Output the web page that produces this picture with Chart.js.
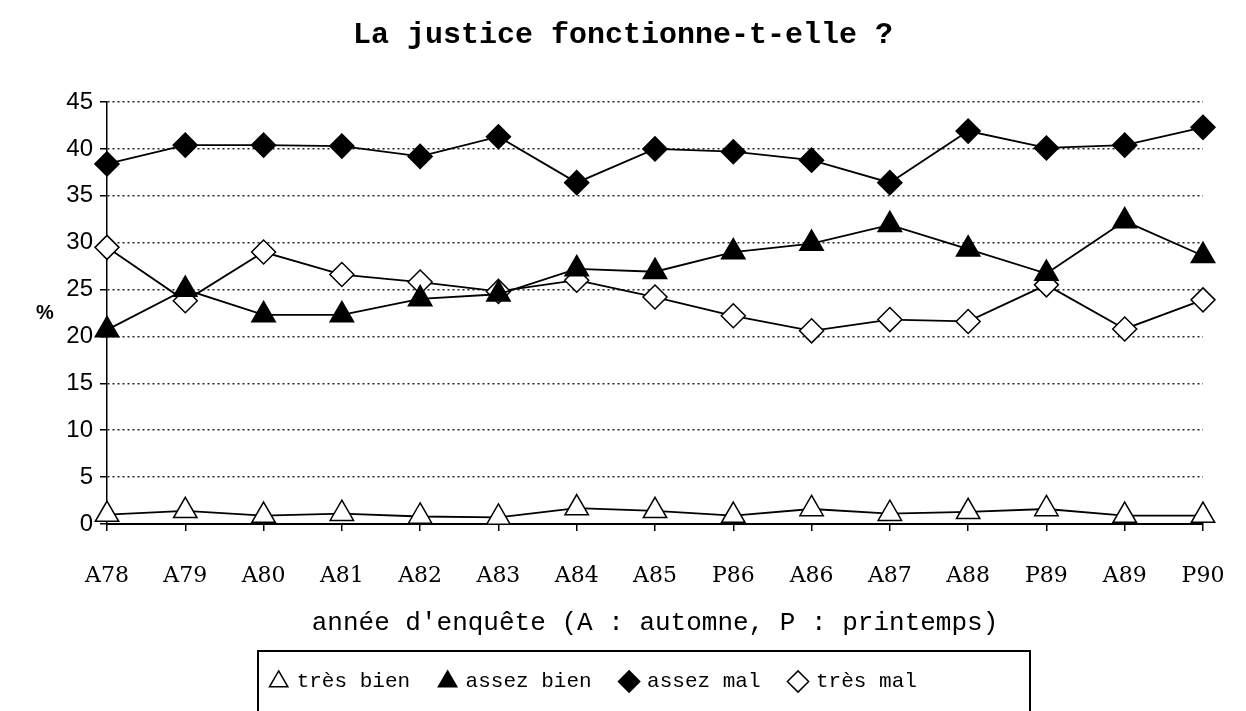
<!DOCTYPE html>
<html>
<head>
  <meta charset="utf-8">
  <title>La justice fonctionne-t-elle ?</title>
  <script src="https://cdn.jsdelivr.net/npm/chart.js@4"></script>
  <style>
    html, body { margin: 0; padding: 0; background: #fff; }
    #wrap { width: 1246px; height: 711px; position: relative; }
  </style>
</head>
<body>
  <div id="wrap"><canvas id="chart"></canvas></div>
  <script>
    const years = ['A78', 'A79', 'A80', 'A81', 'A82', 'A83', 'A84', 'A85', 'P86', 'A86', 'A87', 'A88', 'P89', 'A89', 'P90'];
    const tresBien = [1.0, 1.4, 0.9, 1.1, 0.8, 0.7, 1.7, 1.4, 0.9, 1.6, 1.1, 1.3, 1.6, 0.9, 0.9];
    const assezBien = [20.7, 25.0, 22.3, 22.3, 24.0, 24.5, 27.2, 26.9, 29.0, 29.9, 31.9, 29.3, 26.7, 32.3, 28.6];
    const assezMal = [38.4, 40.4, 40.4, 40.3, 39.2, 41.3, 36.4, 40.0, 39.7, 38.8, 36.4, 41.9, 40.1, 40.4, 42.3];
    const tresMal = [29.5, 23.8, 29.0, 26.6, 25.8, 24.8, 26.0, 24.2, 22.2, 20.6, 21.8, 21.6, 25.5, 20.8, 23.9];

    const mono = "'Liberation Mono', 'Courier New', monospace";

    // "%" label beside the y axis, and the frame around the legend
    const extras = {
      id: 'extras',
      afterLayout(chart) {
        // move the legend items a bit to the left, as in the original
        chart.legend.right -= 58;
      },
      afterDraw(chart) {
        const ctx = chart.ctx;
        const area = chart.chartArea;
        ctx.save();
        ctx.fillStyle = '#000';
        ctx.font = "bold 20px 'Liberation Sans', Arial, sans-serif";
        ctx.textAlign = 'center';
        ctx.textBaseline = 'middle';
        ctx.fillText('%', 45, (area.top + area.bottom) / 2);
        ctx.strokeStyle = '#000';
        ctx.lineWidth = 2;
        ctx.strokeRect(258, 651, 772, 90);
        ctx.restore();
      }
    };

    function line(label, data, style, fill) {
      return {
        label,
        data,
        borderColor: '#000',
        borderWidth: 1.8,
        pointStyle: style,
        pointRadius: style === 'triangle' ? 13.5 : 12,
        pointBackgroundColor: fill,
        pointBorderColor: '#000',
        pointBorderWidth: 1.5,
        tension: 0,
        fill: false
      };
    }

    new Chart(document.getElementById('chart'), {
      type: 'line',
      data: {
        labels: years,
        datasets: [
          line('très bien', tresBien, 'triangle', '#fff'),
          line('assez bien', assezBien, 'triangle', '#000'),
          line('assez mal', assezMal, 'rectRot', '#000'),
          line('très mal', tresMal, 'rectRot', '#fff')
        ]
      },
      plugins: [extras],
      options: {
        responsive: true,
        maintainAspectRatio: false,
        animation: false,
        layout: { padding: { left: 0, right: 0, top: 0, bottom: 9 } },
        plugins: {
          title: {
            display: true,
            text: 'La justice fonctionne-t-elle ?',
            color: '#000',
            font: { family: mono, size: 30, weight: 'bold', lineHeight: 1.2 },
            padding: { top: 17, bottom: 49 }
          },
          legend: {
            position: 'bottom',
            labels: {
              usePointStyle: true,
              boxHeight: 15,
              boxWidth: 15,
              padding: 30,
              color: '#000',
              font: { family: mono, size: 21 }
            }
          },
          tooltip: { enabled: false }
        },
        scales: {
          x: {
            offset: false,
            afterFit(s) { s.height = 117; s.paddingLeft = 0; s.paddingRight = 43; },
            grid: { drawOnChartArea: false, drawTicks: true, tickLength: 7, color: '#000', lineWidth: 1.5 },
            border: { display: true, color: '#000', width: 2 },
            ticks: {
              color: '#000',
              padding: 32,
              maxRotation: 0,
              autoSkip: false,
              font: { family: "'DejaVu Serif', serif", size: 22 }
            },
            title: {
              display: true,
              text: "année d'enquête (A : automne, P : printemps)",
              color: '#000',
              font: { family: mono, size: 26, lineHeight: 1.2 },
              padding: { top: 0, bottom: 2 }
            }
          },
          y: {
            min: 0,
            max: 45,
            afterFit(s) { s.width = 107; },
            grid: { color: '#222', lineWidth: 1.5, tickLength: 7, tickColor: '#000', tickWidth: 1.5 },
            border: { display: true, color: '#000', width: 1.5, dash: [2, 3] },
            ticks: {
              stepSize: 5,
              color: '#000',
              padding: 7,
              font: { family: "'Liberation Sans', Arial, sans-serif", size: 24 }
            }
          }
        }
      }
    });
  </script>
</body>
</html>
